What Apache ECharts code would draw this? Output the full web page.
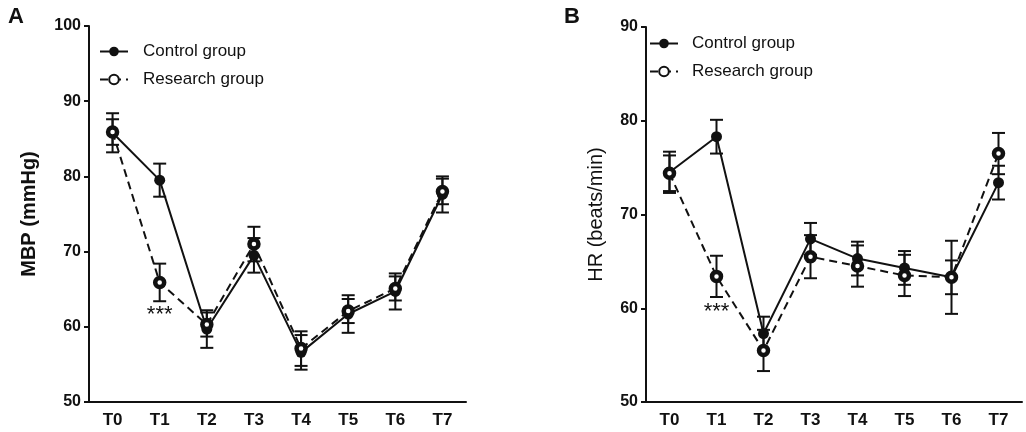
<!DOCTYPE html>
<html>
<head>
<meta charset="utf-8">
<script src="https://cdn.jsdelivr.net/npm/echarts@6/dist/echarts.min.js"></script>
<style>
html,body{margin:0;padding:0;background:#fff;}
#chart{width:1026px;height:432px;}
</style>
</head>
<body>
<div id="chart"></div>
<script>
var categories = ['T0','T1','T2','T3','T4','T5','T6','T7'];
var mbpTicks = [50, 100, 10];
var hrTicks = [50, 90, 10];

var mbpControl    = [85.8, 79.5, 59.7, 69.5, 56.6, 61.7, 64.7, 77.6];
var mbpControlSD  = [2.6, 2.2, 2.5, 2.3, 2.3, 2.5, 2.4, 2.4];
var mbpResearch   = [85.9, 65.9, 60.3, 71.0, 57.1, 62.1, 65.1, 78.0];
var mbpResearchSD = [1.7, 2.5, 1.6, 2.3, 2.3, 1.6, 1.6, 1.7];

var hrControl    = [74.5, 78.3, 57.3, 67.4, 65.3, 64.3, 63.3, 73.4];
var hrControlSD  = [2.2, 1.8, 1.8, 1.7, 1.8, 1.8, 1.8, 1.8];
var hrResearch   = [74.4, 63.4, 55.5, 65.5, 64.5, 63.5, 63.3, 76.5];
var hrResearchSD = [1.9, 2.2, 2.2, 2.3, 2.2, 2.2, 3.9, 2.2];

var sigMarkA = {cat: 'T1', y: 61.6, text: '***'};
var sigMarkB = {cat: 'T1', y: 59.6, text: '***'};

var FONT = '"Liberation Sans", Arial, sans-serif';
var INK = '#111';

function errData(vals, sds) {
  return vals.map(function (v, i) { return [i, v, sds[i]]; });
}
function errSeries(vals, sds, axisIdx) {
  return {
    type: 'custom',
    xAxisIndex: axisIdx, yAxisIndex: axisIdx,
    silent: true,
    z: 1,
    data: errData(vals, sds),
    renderItem: function (params, api) {
      var x = api.value(0), y = api.value(1), e = api.value(2);
      var top = api.coord([x, y + e]);
      var bot = api.coord([x, y - e]);
      var hw = 6.5;
      var st = {stroke: INK, lineWidth: 2};
      return {
        type: 'group',
        children: [
          {type: 'line', shape: {x1: top[0], y1: top[1], x2: bot[0], y2: bot[1]}, style: st},
          {type: 'line', shape: {x1: top[0]-hw, y1: top[1], x2: top[0]+hw, y2: top[1]}, style: st},
          {type: 'line', shape: {x1: bot[0]-hw, y1: bot[1], x2: bot[0]+hw, y2: bot[1]}, style: st}
        ]
      };
    }
  };
}
function controlSeries(vals, axisIdx) {
  return {
    name: 'Control group', type: 'line', xAxisIndex: axisIdx, yAxisIndex: axisIdx,
    data: vals, symbol: 'circle', symbolSize: 11, z: 3,
    lineStyle: {color: INK, width: 2, type: 'solid'},
    itemStyle: {color: INK, borderColor: INK, borderWidth: 0}
  };
}
function researchSeries(vals, axisIdx, mark) {
  return {
    name: 'Research group', type: 'line', xAxisIndex: axisIdx, yAxisIndex: axisIdx,
    data: vals, symbol: 'circle', symbolSize: 9, z: 4,
    lineStyle: {color: INK, width: 2, type: [8, 5]},
    itemStyle: {color: '#fff', borderColor: INK, borderWidth: 4.5},
    markPoint: {
      symbol: 'circle', symbolSize: 1, silent: true,
      itemStyle: {color: 'rgba(0,0,0,0)'},
      label: {show: true, position: 'inside', formatter: mark.text, color: INK, fontSize: 22, fontFamily: FONT},
      data: [{coord: [mark.cat, mark.y]}]
    }
  };
}
function xAxis(gridIdx) {
  return {
    type: 'category', gridIndex: gridIdx, data: categories, boundaryGap: true,
    axisLine: {lineStyle: {color: INK, width: 2}},
    axisTick: {alignWithLabel: true, length: 5, lineStyle: {color: INK, width: 2}},
    axisLabel: {color: INK, fontSize: 17, fontWeight: 'bold', fontFamily: FONT, margin: 10},
    splitLine: {show: false}
  };
}
function yAxis(gridIdx, ticks, name, bold, gap) {
  return {
    type: 'value', gridIndex: gridIdx, min: ticks[0], max: ticks[1], interval: ticks[2],
    name: name, nameLocation: 'middle', nameRotate: 90, nameGap: gap,
    nameTextStyle: {color: INK, fontSize: 20, fontWeight: bold ? 'bold' : 'normal', fontFamily: FONT},
    axisLine: {show: true, lineStyle: {color: INK, width: 2}},
    axisTick: {show: true, length: 5, lineStyle: {color: INK, width: 2}},
    axisLabel: {color: INK, fontSize: 16, fontWeight: 'bold', fontFamily: FONT, margin: 8},
    splitLine: {show: false}
  };
}
function legend(left, top, pad) {
  return {
    orient: 'vertical', left: left, top: top, itemWidth: 28, itemHeight: 12, itemGap: 11,
    selectedMode: false,
    textStyle: {color: INK, fontSize: 17, fontFamily: FONT, padding: [0, 0, 0, pad]},
    data: ['Control group', 'Research group']
  };
}

var chart = echarts.init(document.getElementById('chart'));
chart.setOption({
  animation: false,
  backgroundColor: '#fff',
  graphic: [
    {type: 'text', left: 8, top: 6, style: {text: 'A', font: 'bold 22px ' + FONT, fill: INK}},
    {type: 'text', left: 564, top: 6, style: {text: 'B', font: 'bold 22px ' + FONT, fill: INK}}
  ],
  legend: [legend(94, 38, 10), legend(644, 30, 9)],
  grid: [
    {left: 89, right: 560, top: 26, bottom: 30},
    {left: 646, right: 4, top: 27, bottom: 30}
  ],
  xAxis: [xAxis(0), xAxis(1)],
  yAxis: [yAxis(0, mbpTicks, 'MBP (mmHg)', true, 50), yAxis(1, hrTicks, 'HR (beats/min)', false, 40)],
  series: [
    errSeries(mbpControl, mbpControlSD, 0),
    errSeries(mbpResearch, mbpResearchSD, 0),
    researchSeries(mbpResearch, 0, sigMarkA),
    controlSeries(mbpControl, 0),
    errSeries(hrControl, hrControlSD, 1),
    errSeries(hrResearch, hrResearchSD, 1),
    researchSeries(hrResearch, 1, sigMarkB),
    controlSeries(hrControl, 1)
  ]
});
</script>
</body>
</html>
